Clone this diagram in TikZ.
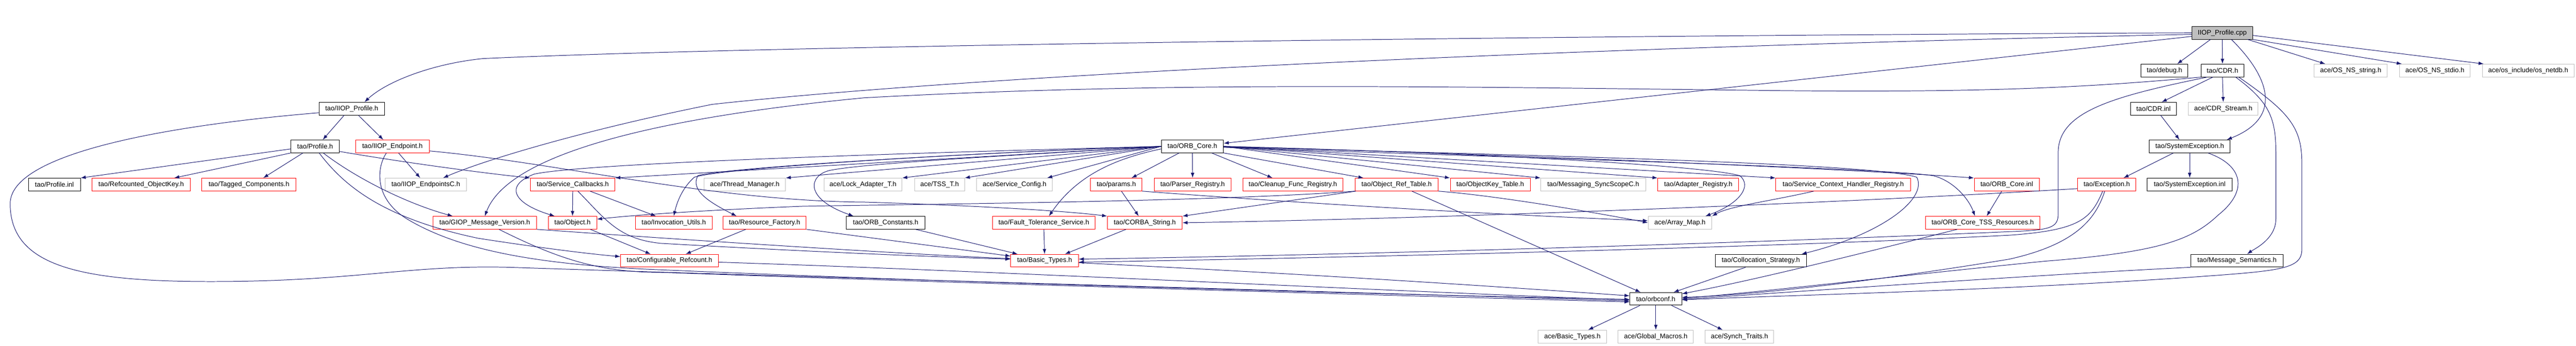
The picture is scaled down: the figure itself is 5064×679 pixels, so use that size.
\documentclass[tikz,border=0pt]{standalone}
\usepackage{fontspec}
\usetikzlibrary{arrows.meta}

\newfontfamily\hdrfont{Liberation Sans}
\definecolor{edgeblue}{HTML}{191970}
\definecolor{boxgray}{HTML}{BFBFBF}

\tikzset{
    hdr/.style={draw=black, line width=1pt, rectangle, minimum height=25pt, inner sep=0pt,
        font=\hdrfont\fontsize{13.2}{15}\selectfont},
    hdrred/.style={hdr, draw=red},
    hdrgray/.style={hdr, draw=boxgray},
    hdrroot/.style={hdr, fill=boxgray},
    wd/.style={minimum width=#1pt},
    inc/.style={draw=edgeblue, line width=1pt, -{Latex[length=10pt,width=7pt]}},
}

\begin{document}
\begin{tikzpicture}[x=1pt, y=-1pt]
%\draw [help lines, step=100] (0,0) grid (5064,679);
    \useasboundingbox (0,0) rectangle (5064,679);

    \node[hdrroot, wd=119] (cpp) at (4368.5, 64.5) {IIOP\_Profile.cpp};

    \node[hdr, wd=92] (debug) at (4255, 138.5) {tao/debug.h};
    \node[hdr, wd=84] (cdr) at (4369, 138.5) {tao/CDR.h};
    \node[hdrgray, wd=144] (osstring) at (4621, 138.5) {ace/OS\_NS\_string.h};
    \node[hdrgray, wd=139] (osstdio) at (4786.5, 138.5) {ace/OS\_NS\_stdio.h};
    \node[hdrgray, wd=180] (osnetdb) at (4970, 138.5) {ace/os\_include/os\_netdb.h};

    \node[hdr, wd=129] (iiopprofile) at (691.5, 213.5) {tao/IIOP\_Profile.h};
    \node[hdr, wd=91] (cdrinl) at (4233.5, 213.5) {tao/CDR.inl};
    \node[hdrgray, wd=137] (cdrstream) at (4370.5, 213.5) {ace/CDR\_Stream.h};

    \node[hdr, wd=95] (profile) at (619.5, 287.5) {tao/Profile.h};
    \node[hdrred, wd=145] (iiopendpoint) at (771.5, 287.5) {tao/IIOP\_Endpoint.h};
    \node[hdr, wd=122] (orbcore) at (2344, 287.5) {tao/ORB\_Core.h};
    \node[hdr, wd=159] (sysexc) at (4304.5, 287.5) {tao/SystemException.h};

    \node[hdr, wd=102] (profileinl) at (107, 362.5) {tao/Profile.inl};
    \node[hdrred, wd=193] (refkey) at (277.5, 362.5) {tao/Refcounted\_ObjectKey.h};
    \node[hdrred, wd=185] (tagged) at (489.5, 362.5) {tao/Tagged\_Components.h};
    \node[hdrgray, wd=160] (endpointsc) at (837, 362.5) {tao/IIOP\_EndpointsC.h};
    \node[hdrred, wd=166] (servcb) at (1126, 362.5) {tao/Service\_Callbacks.h};
    \node[hdrgray, wd=160] (thrmgr) at (1464, 362.5) {ace/Thread\_Manager.h};
    \node[hdrgray, wd=153] (lockadapter) at (1696.5, 362.5) {ace/Lock\_Adapter\_T.h};
    \node[hdrgray, wd=98] (tsst) at (1847, 362.5) {ace/TSS\_T.h};
    \node[hdrgray, wd=149] (svcconf) at (1994.5, 362.5) {ace/Service\_Config.h};
    \node[hdrred, wd=101] (params) at (2194.5, 362.5) {tao/params.h};
    \node[hdrred, wd=151] (parserreg) at (2344.5, 362.5) {tao/Parser\_Registry.h};
    \node[hdrred, wd=197] (cleanup) at (2541.5, 362.5) {tao/Cleanup\_Func\_Registry.h};
    \node[hdrred, wd=163] (objreftable) at (2745.5, 362.5) {tao/Object\_Ref\_Table.h};
    \node[hdrred, wd=157] (objkeytable) at (2929.5, 362.5) {tao/ObjectKey\_Table.h};
    \node[hdrgray, wd=206] (syncscope) at (3132, 362.5) {tao/Messaging\_SyncScopeC.h};
    \node[hdrred, wd=159] (adapterreg) at (3338.5, 362.5) {tao/Adapter\_Registry.h};
    \node[hdrred, wd=265] (schreg) at (3623.5, 362.5) {tao/Service\_Context\_Handler\_Registry.h};
    \node[hdrred, wd=128] (orbcoreinl) at (3945, 362.5) {tao/ORB\_Core.inl};
    \node[hdrred, wd=115] (exception) at (4141.5, 362.5) {tao/Exception.h};
    \node[hdr, wd=167] (sysexcinl) at (4304.5, 362.5) {tao/SystemException.inl};

    \node[hdrred, wd=204] (giopver) at (953, 437.5) {tao/GIOP\_Message\_Version.h};
    \node[hdrred, wd=95] (object) at (1125.5, 437.5) {tao/Object.h};
    \node[hdrred, wd=151] (invutils) at (1324.5, 437.5) {tao/Invocation\_Utils.h};
    \node[hdrred, wd=164] (resfactory) at (1503, 437.5) {tao/Resource\_Factory.h};
    \node[hdr, wd=154] (orbconst) at (1741, 437.5) {tao/ORB\_Constants.h};
    \node[hdrred, wd=202] (ftservice) at (2052, 437.5) {tao/Fault\_Tolerance\_Service.h};
    \node[hdrred, wd=147] (corbastring) at (2250.5, 437.5) {tao/CORBA\_String.h};
    \node[hdrgray, wd=125] (arraymap) at (3302.5, 437.5) {ace/Array\_Map.h};
    \node[hdrred, wd=225] (tssres) at (3897.5, 437.5) {tao/ORB\_Core\_TSS\_Resources.h};

    \node[hdrred, wd=192] (refcount) at (1316, 512) {tao/Configurable\_Refcount.h};
    \node[hdrred, wd=133] (basictypes) at (2053.5, 512) {tao/Basic\_Types.h};
    \node[hdr, wd=179] (colloc) at (3461.5, 512) {tao/Collocation\_Strategy.h};
    \node[hdr, wd=181] (msgsem) at (4397.5, 512) {tao/Message\_Semantics.h};

    \node[hdr, wd=102] (orbconf) at (3255, 587) {tao/orbconf.h};

    \node[hdrgray, wd=134] (acebasic) at (3091, 661) {ace/Basic\_Types.h};
    \node[hdrgray, wd=148] (globalmacros) at (3255, 661) {ace/Global\_Macros.h};
    \node[hdrgray, wd=135] (synchtraits) at (3419.5, 661) {ace/Synch\_Traits.h};

    % IIOP_Profile.cpp
    \draw[inc] (cpp.west) .. controls (3000,70) and (1500,90) .. (950,115) .. controls (850,125) and (760,160) .. ([xshift=25pt]iiopprofile.north);
    \draw[inc] ([yshift=-3pt]cpp.west) .. controls (3000,95) and (1900,150) .. (1400,205) .. controls (1150,255) and (950,315) .. ([xshift=34pt]endpointsc.north);
    \draw[inc] ([yshift=-7pt]cpp.west) -- ([yshift=6pt]orbcore.east);
    \draw[inc] ([xshift=-23pt]cpp.south) -- ([xshift=25pt]debug.north);
    \draw[inc] (cpp.south) -- (cdr.north);
    \draw[inc] ([xshift=18pt]cpp.south) .. controls (4460,150) and (4490,230) .. ([xshift=73pt]sysexc.north);
    \draw[inc] ([xshift=50pt]cpp.south) -- ([xshift=-50pt]osstring.north);
    \draw[inc] (cpp.south east) -- ([xshift=5pt]osstdio.north west);
    \draw[inc] ([yshift=-5pt]cpp.east) -- ([xshift=3pt]osnetdb.north west);

    % tao/CDR.h
    \draw[inc] ([xshift=-19pt]cdr.south) -- ([xshift=16pt]cdrinl.north);
    \draw[inc] (cdr.south) -- (cdrstream.north);
    \draw[inc] (cdr.south west) .. controls (4100,172) and (3900,182) .. (3500,178) .. controls (2800,170) and (2300,160) .. (1700,192) .. controls (1300,230) and (1000,300) .. (giopver.north);
    \draw[inc] ([xshift=-30pt]cdr.south) .. controls (4150,190) and (4046,220) .. (4046,300) -- (4046,420) .. controls (4046,448) and (4030,452) .. (3950,455) .. controls (3500,475) and (2700,500) .. ([yshift=3pt]basictypes.east);
    \draw[inc] ([xshift=26pt]cdr.south) .. controls (4460,200) and (4474,230) .. (4474,300) -- (4474,430) .. controls (4474,470) and (4430,490) .. ([xshift=20pt]msgsem.north);
    \draw[inc] ([xshift=32pt]cdr.south) .. controls (4500,220) and (4525,250) .. (4525,320) -- (4525,490) .. controls (4525,530) and (4480,532) .. (4300,545) .. controls (3900,572) and (3500,580) .. ([yshift=-2pt]orbconf.east);
    \draw[inc] ([xshift=14pt]cdrinl.south) -- ([xshift=-20pt]sysexc.north);

    % tao/SystemException.h, tao/Exception.h
    \draw[inc] ([xshift=-32pt]sysexc.south) -- ([xshift=33pt]exception.north);
    \draw[inc] (sysexc.south) -- (sysexcinl.north);
    \draw[inc] ([xshift=36pt]sysexc.south) .. controls (4410,325) and (4420,375) .. (4361,422) .. controls (4310,470) and (4250,495) .. (4020,513) .. controls (3700,545) and (3450,575) .. ([yshift=1pt]orbconf.east);
    \draw[inc] ([yshift=-8pt]exception.west) .. controls (3600,400) and (2800,430) .. (corbastring.east);
    \draw[inc] ([xshift=-8pt]exception.south) .. controls (4110,430) and (4090,452) .. (3950,462) .. controls (3500,485) and (2700,505) .. ([yshift=-3pt]basictypes.east);
    \draw[inc] ([xshift=-4pt]exception.south) .. controls (4120,430) and (4080,480) .. (3950,509) .. controls (3700,550) and (3450,580) .. ([yshift=3pt]orbconf.east);
    \draw[inc] (msgsem.south west) .. controls (4000,540) and (3500,575) .. ([yshift=-1pt]orbconf.east);

    \draw[inc] ([xshift=-10pt]orbcoreinl.south) -- ([xshift=8pt]tssres.north);
    \draw[inc] ([xshift=-50pt]tssres.south) .. controls (3650,500) and (3450,550) .. ([yshift=10pt]orbconf.east);
    \draw[inc] ([xshift=-30pt]colloc.south) -- ([xshift=35pt]orbconf.north);
    \draw[inc] ([xshift=-58pt]schreg.south) .. controls (3480,395) and (3400,405) .. (arraymap.north east);

    % tao/orbconf.h
    \draw[inc] ([xshift=-31pt]orbconf.south) -- ([xshift=31pt]acebasic.north);
    \draw[inc] (orbconf.south) -- (globalmacros.north);
    \draw[inc] ([xshift=31pt]orbconf.south) -- ([xshift=-33pt]synchtraits.north);

    % tao/ORB_Core.h
    \draw[inc] (orbcore.east) .. controls (3000,305) and (3600,330) .. (orbcoreinl.north west);
    \draw[inc] ([yshift=-2pt]orbcore.east) .. controls (3000,310) and (3700,330) .. (3800,345) .. controls (3840,355) and (3870,390) .. ([xshift=-15pt]tssres.north);
    \draw[inc] ([yshift=-1pt]orbcore.east) .. controls (3000,305) and (3680,320) .. (3768,348) .. controls (3790,390) and (3700,460) .. ([xshift=80pt]colloc.north);
    \draw[inc] (orbcore.east) -- (schreg.north west);
    \draw[inc] (orbcore.east) .. controls (2900,300) and (3350,325) .. (3420,345) .. controls (3445,365) and (3420,400) .. ([xshift=50pt]arraymap.north);
    \draw[inc] (orbcore.east) -- (adapterreg.north west);
    \draw[inc] (orbcore.east) -- (syncscope.north west);
    \draw[inc] (orbcore.east) -- (objkeytable.north west);
    \draw[inc] (orbcore.south east) -- ([xshift=-65pt]objreftable.north);
    \draw[inc] ([xshift=38pt]orbcore.south) -- ([xshift=-40pt]cleanup.north);
    \draw[inc] (orbcore.south) -- (parserreg.north);
    \draw[inc] ([xshift=-26pt]orbcore.south) -- ([xshift=30pt]params.north);
    \draw[inc] ([yshift=-5pt]orbcore.west) .. controls (2200,310) and (2120,340) .. ([xshift=10pt]ftservice.north);
    \draw[inc] (orbcore.west) -- ([xshift=64pt]svcconf.north);
    \draw[inc] (orbcore.west) -- (tsst.north east);
    \draw[inc] (orbcore.west) -- (lockadapter.north east);
    \draw[inc] (orbcore.west) -- (thrmgr.north east);
    \draw[inc] (orbcore.west) -- (servcb.north east);
    \draw[inc] (orbcore.west) .. controls (2000,305) and (1700,320) .. (1630,335) .. controls (1590,345) and (1580,390) .. ([xshift=-63pt]orbconst.north);
    \draw[inc] (orbcore.west) .. controls (1900,300) and (1420,330) .. (1372,345) .. controls (1355,375) and (1400,400) .. ([xshift=-55pt]resfactory.north);
    \draw[inc] (orbcore.west) .. controls (1900,300) and (1420,330) .. (1365,348) .. controls (1340,370) and (1330,400) .. (invutils.north);
    \draw[inc] (orbcore.west) .. controls (1800,300) and (1150,320) .. (1050,342) .. controls (990,365) and (1010,400) .. ([xshift=-35pt]object.north);

    % tao/IIOP_Profile.h, tao/IIOP_Endpoint.h
    \draw[inc] ([xshift=-15pt]iiopprofile.south) -- ([xshift=15pt]profile.north);
    \draw[inc] ([xshift=13pt]iiopprofile.south) -- ([xshift=-18pt]iiopendpoint.north);
    \draw[inc] ([yshift=-8pt]iiopprofile.west) .. controls (400,240) and (20,290) .. (20,400) .. controls (20,520) and (150,553) .. (414,553) .. controls (700,553) and (800,520) .. (1000,525) .. controls (1600,545) and (2800,578) .. ([yshift=-4pt]orbconf.west);
    \draw[inc] ([xshift=12pt]iiopendpoint.south) -- ([xshift=-11pt]endpointsc.north);
    \draw[inc] ([yshift=-9pt]iiopendpoint.east) .. controls (1100,320) and (1400,395) .. (1700,397) .. controls (1950,405) and (2100,415) .. (corbastring.north west);
    \draw[inc] ([xshift=-12pt]iiopendpoint.south) .. controls (740,330) and (735,390) .. (800,430) .. controls (900,490) and (1050,520) .. (1300,530) .. controls (2000,560) and (2800,580) .. ([yshift=-1pt]orbconf.west);

    % tao/Profile.h
    \draw[inc] ([yshift=-5pt]profile.west) -- (profileinl.north east);
    \draw[inc] (profile.south west) -- ([xshift=65pt]refkey.north);
    \draw[inc] ([xshift=-24pt]profile.south) -- ([xshift=28pt]tagged.north);
    \draw[inc] ([yshift=-10pt]profile.east) .. controls (800,320) and (950,340) .. (servcb.north west);
    \draw[inc] ([xshift=8pt]profile.south) .. controls (680,370) and (760,430) .. (940,468) .. controls (1050,485) and (1150,498) .. ([yshift=8pt]refcount.west);
    \draw[inc] ([xshift=16pt]profile.south) .. controls (700,350) and (800,400) .. ([xshift=-63pt]giopver.north);

    % row of tao/GIOP_Message_Version.h
    \draw[inc] (giopver.south east) .. controls (1400,475) and (1800,500) .. ([yshift=4pt]basictypes.west);
    \draw[inc] ([xshift=28pt]giopver.south) .. controls (1100,510) and (1180,535) .. (1300,535) .. controls (2000,560) and (2800,582) .. ([yshift=-6pt]orbconf.west);
    \draw[inc] ([xshift=35pt]object.south) -- ([xshift=-37pt]refcount.north);
    \draw[inc] ([xshift=-37pt]resfactory.south) -- ([xshift=32pt]refcount.north);
    \draw[inc] (resfactory.south east) -- ([yshift=9pt]basictypes.west);
    \draw[inc] ([yshift=-3pt]refcount.east) .. controls (1900,530) and (2800,575) .. ([yshift=-2pt]orbconf.west);
    \draw[inc] (servcb.south) -- (object.north);
    \draw[inc] ([xshift=34pt]servcb.south) -- ([xshift=-35pt]invutils.north);
    \draw[inc] ([xshift=10pt]servcb.south) .. controls (1190,430) and (1215,470) .. (1300,478) .. controls (1600,495) and (1850,505) .. ([yshift=3pt]basictypes.west);
    \draw[inc] ([xshift=59pt]orbconst.south) -- ([xshift=-53pt]basictypes.north);
    \draw[inc] (ftservice.south) -- (basictypes.north);
    \draw[inc] ([xshift=-37pt]corbastring.south) -- ([xshift=40pt]basictypes.north);
    \draw[inc] ([xshift=10pt]params.south) -- ([xshift=-12pt]corbastring.north);
    \draw[inc] (params.south east) .. controls (2500,395) and (2900,420) .. ([yshift=4pt]arraymap.west);
    \draw[inc] ([yshift=-4pt]basictypes.east) .. controls (2600,540) and (2900,560) .. ([yshift=6pt]orbconf.west);

    % tao/Object_Ref_Table.h
    \draw[inc] (objreftable.south west) .. controls (2400,395) and (1900,400) .. (1580,405) .. controls (1400,412) and (1250,422) .. ([yshift=7pt]object.east);
    \draw[inc] ([xshift=-80pt]objreftable.south) -- (corbastring.north east);
    \draw[inc] (objreftable.south east) .. controls (2950,385) and (3150,420) .. (arraymap.west);
    \draw[inc] ([xshift=30pt]objreftable.south) -- ([xshift=-30pt]orbconf.north);
\end{tikzpicture}
\end{document}
